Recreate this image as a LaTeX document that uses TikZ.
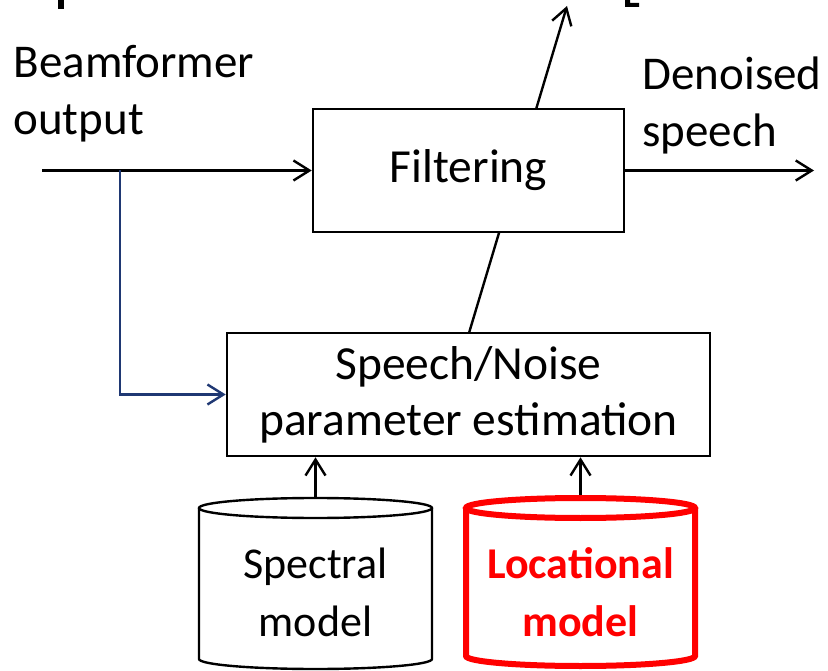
\documentclass[tikz,border=0pt]{standalone}
\usepackage{fontspec}
\setmainfont{Carlito}
\usepackage{tikz}
\usetikzlibrary{positioning,arrows.meta}
\definecolor{bfblue}{RGB}{31,56,115}
\definecolor{locred}{RGB}{255,0,0}
\tikzset{
  block/.style={draw=black, line width=2.6pt, fill=white, align=center,
    font=\fontsize{47.5}{56}\selectfont},
  label/.style={align=left, font=\fontsize{47}{57}\selectfont},
  cyltext/.style={align=center, inner sep=0pt, font=\fontsize{44}{58}\selectfont},
  sig/.style={line width=2.4pt, -{Straight Barb[length=16pt,width=20pt,line width=2.4pt]}}
}
\begin{document}
\begin{tikzpicture}[x=1pt, y=-1pt]
    \useasboundingbox (0,0) rectangle (828,671);

    % clipped fragments of a title at the top
    \fill (58,0) rectangle (64,9);
    \fill (625,0) rectangle (630,7) (625,3) rectangle (639,7);

    % adaptation arrow, passing under the filter box
    \coordinate (adapt) at (567,6);
    \coordinate (adaptfoot) at (469,333);
    \draw[sig] (adaptfoot) -- (adapt);

    \node[block, minimum width=311pt, minimum height=123pt] (filt) at (468.5,170.5) {Filtering};
    \node[block, minimum width=483pt, minimum height=123pt] (est) at (468.5,394.5) {Speech/Noise\\parameter estimation};

    \node[label, anchor=north west] (bfout) at (10,42) {Beamformer\\output};
    \node[label, anchor=north west] (denoised) at (639,53) {Denoised\\speech};

    \coordinate (in) at (42,170.5);
    \coordinate (branch) at (120,170.5);
    \coordinate (out) at (814,170.5);

    \draw[sig] (in) -- (filt.west);
    \draw[sig, draw=bfblue, -{Straight Barb[length=16pt,width=20pt,line width=2.4pt,color=bfblue]}] (branch) |- (est.west);
    \draw[sig] (filt.east) -- (out);

    % model databases
    \coordinate (spectop) at (315.5,508);
    \coordinate (loctop) at (580.5,508);
    \draw[line width=2.4pt] ([xshift=-116.5pt]spectop) -- ++(0,151) arc[start angle=180, end angle=360, x radius=116.5pt, y radius=10pt] -- ([xshift=116.5pt]spectop);
    \draw[line width=2.4pt] (spectop) ellipse[x radius=116.5pt, y radius=10pt];
    \draw[line width=6pt, draw=locred] ([xshift=-114.5pt]loctop) -- ++(0,148) arc[start angle=180, end angle=360, x radius=114.5pt, y radius=10pt] -- ([xshift=114.5pt]loctop);
    \draw[line width=6pt, draw=locred] (loctop) ellipse[x radius=114.5pt, y radius=10pt];

    \node[cyltext] (spec) at (315.5,592) {Spectral\\model};
    \node[cyltext, text=locred, font=\fontsize{44}{58}\selectfont\bfseries] (loc) at (580.5,592) {Locational\\model};

    \draw[sig] ([yshift=10pt]spectop) -- (spectop |- est.south);
    \draw[sig] ([yshift=13pt]loctop) -- (loctop |- est.south);
\end{tikzpicture}
\end{document}
